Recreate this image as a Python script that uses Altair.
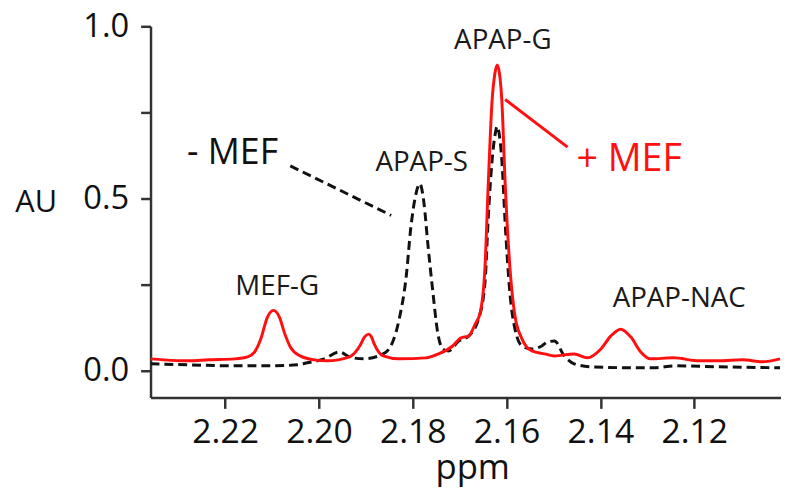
import altair as alt
import pandas as pd

FONT = "Open Sans"

# +MEF spectrum (red, solid): chemical shift (ppm) and intensity (AU)
plus_ppm = [2.2359, 2.2331, 2.2278, 2.2236, 2.2179, 2.2152, 2.2137, 2.2124, 2.2110, 2.2097,
            2.2084, 2.2074, 2.2061, 2.2040, 2.2010, 2.1983, 2.1935, 2.1913, 2.1903, 2.1894,
            2.1888, 2.1882, 2.1863, 2.1829, 2.1772, 2.1745, 2.1715, 2.1698, 2.1681, 2.1667,
            2.1656, 2.1646, 2.1639, 2.1631, 2.1625, 2.1620, 2.1615, 2.1610, 2.1603, 2.1593,
            2.1582, 2.1567, 2.1546, 2.1519, 2.1498, 2.1456, 2.1428, 2.1399, 2.1378, 2.1357,
            2.1335, 2.1314, 2.1293, 2.1245, 2.1188, 2.1146, 2.1097, 2.1055, 2.1017]
plus_au = [0.0345, 0.0316, 0.0287, 0.0316, 0.0345, 0.0402, 0.0546, 0.0920, 0.1552, 0.1753,
           0.1552, 0.1121, 0.0690, 0.0431, 0.0316, 0.0287, 0.0402, 0.0718, 0.0977, 0.1063,
           0.0977, 0.0776, 0.0431, 0.0345, 0.0374, 0.0489, 0.0718, 0.0948, 0.1006, 0.1351,
           0.1695, 0.3017, 0.5431, 0.7816, 0.8620, 0.8879, 0.8620, 0.7816, 0.5431, 0.3017,
           0.1580, 0.0920, 0.0575, 0.0489, 0.0431, 0.0489, 0.0374, 0.0632, 0.1006, 0.1207,
           0.0977, 0.0546, 0.0345, 0.0374, 0.0287, 0.0287, 0.0316, 0.0259, 0.0345]

# -MEF spectrum (black, dashed)
minus_ppm = [2.2359, 2.2278, 2.2194, 2.2095, 2.2046, 2.2025, 2.1989, 2.1956, 2.1935, 2.1905,
             2.1863, 2.1842, 2.1829, 2.1814, 2.1804, 2.1793, 2.1785, 2.1776, 2.1768, 2.1757,
             2.1747, 2.1736, 2.1724, 2.1702, 2.1681, 2.1660, 2.1646, 2.1639, 2.1631, 2.1625,
             2.1620, 2.1615, 2.1610, 2.1603, 2.1593, 2.1582, 2.1567, 2.1546, 2.1525, 2.1513,
             2.1498, 2.1477, 2.1456, 2.1420, 2.1329, 2.1287, 2.1238, 2.1154, 2.1017]
minus_au = [0.0201, 0.0172, 0.0144, 0.0144, 0.0172, 0.0230, 0.0345, 0.0546, 0.0402, 0.0345,
            0.0489, 0.0862, 0.1494, 0.2730, 0.4167, 0.5144, 0.5431, 0.4856, 0.3707, 0.2270,
            0.1121, 0.0632, 0.0575, 0.0862, 0.1006, 0.1494, 0.2557, 0.4454, 0.6092, 0.6810,
            0.7098, 0.6810, 0.6092, 0.4282, 0.2270, 0.1207, 0.0718, 0.0632, 0.0718, 0.0833,
            0.0862, 0.0431, 0.0201, 0.0115, 0.0086, 0.0086, 0.0144, 0.0115, 0.0086]

# peak labels
peak_names = ["APAP-G", "APAP-S", "MEF-G", "APAP-NAC"]
peak_ppm = [2.1608, 2.1781, 2.2089, 2.1232]
peak_au = [0.934, 0.581, 0.221, 0.184]

# series labels and their leader lines
minus_label = ["- MEF"]
minus_label_ppm = [2.2281]
minus_label_au = [0.600]
plus_label = ["+ MEF"]
plus_label_ppm = [2.1451]
plus_label_au = [0.580]

minus_leader = {"x": [2.2061], "x2": [2.1846], "y": [0.5948], "y2": [0.4511]}
plus_leader = {"x": [2.1603], "x2": [2.1470], "y": [0.7874], "y2": [0.6494]}

x_ticks = [2.22, 2.20, 2.18, 2.16, 2.14, 2.12]
y_ticks = [0.0, 0.25, 0.5, 0.75, 1.0]

xscale = alt.Scale(domain=[2.1015, 2.2359], reverse=True, nice=False, zero=False)
yscale = alt.Scale(domain=[-0.0776, 1.0], nice=False, zero=False)

plus_df = pd.DataFrame({"ppm": plus_ppm, "au": plus_au, "i": range(len(plus_ppm))})
minus_df = pd.DataFrame({"ppm": minus_ppm, "au": minus_au, "i": range(len(minus_ppm))})

xaxis = alt.Axis(values=x_ticks, format=".2f", title="ppm", grid=False,
                 labelFontSize=34, labelFont=FONT, labelColor="#111111",
                 titleFontSize=35, titleFont=FONT, titleColor="#111111", titleFontWeight="normal",
                 titleX=325, titleY=82, titleBaseline="alphabetic", titleAlign="center",
                 domainColor="#333333", domainWidth=2.5, tickColor="#333333", tickWidth=2.5,
                 tickSize=11, labelPadding=8, labelFlush=False, labelOverlap=False)
yaxis = alt.Axis(values=y_ticks, title="AU", grid=False,
                 labelExpr="(datum.value == 0.25 || datum.value == 0.75) ? '' : format(datum.value, '.1f')",
                 labelFontSize=33, labelFont=FONT, labelColor="#111111",
                 titleFontSize=31, titleFont=FONT, titleColor="#111111", titleFontWeight="normal",
                 titleAngle=0, titleX=-116, titleY=187, titleAlign="center", titleBaseline="alphabetic",
                 domainColor="#333333", domainWidth=2.5, tickColor="#333333", tickWidth=2.5,
                 tickSize=10, labelPadding=12, labelFlush=False, labelOverlap=False)

minus_line = alt.Chart(minus_df).mark_line(
    color="#111111", strokeWidth=3, strokeDash=[9, 5], interpolate="monotone", clip=True
).encode(
    x=alt.X("ppm:Q", scale=xscale, axis=xaxis),
    y=alt.Y("au:Q", scale=yscale, axis=yaxis),
    order="i:O",
)

plus_line = alt.Chart(plus_df).mark_line(
    color="#ff1010", strokeWidth=3, interpolate="monotone", clip=True
).encode(
    x=alt.X("ppm:Q", scale=xscale),
    y=alt.Y("au:Q", scale=yscale),
    order="i:O",
)

minus_lead = alt.Chart(pd.DataFrame(minus_leader)).mark_rule(
    color="#111111", strokeWidth=3, strokeDash=[9, 5]
).encode(x=alt.X("x:Q", scale=xscale), x2="x2:Q", y=alt.Y("y:Q", scale=yscale), y2="y2:Q")

plus_lead = alt.Chart(pd.DataFrame(plus_leader)).mark_rule(
    color="#ff1010", strokeWidth=3
).encode(x=alt.X("x:Q", scale=xscale), x2="x2:Q", y=alt.Y("y:Q", scale=yscale), y2="y2:Q")

peaks = alt.Chart(pd.DataFrame({"t": peak_names, "x": peak_ppm, "y": peak_au})).mark_text(
    font=FONT, fontSize=28, color="#1a1a1a", align="center", baseline="alphabetic"
).encode(x=alt.X("x:Q", scale=xscale), y=alt.Y("y:Q", scale=yscale), text="t:N")

minus_txt = alt.Chart(pd.DataFrame({"t": minus_label, "x": minus_label_ppm, "y": minus_label_au})).mark_text(
    font=FONT, fontSize=36, color="#111111", align="left", baseline="alphabetic"
).encode(x=alt.X("x:Q", scale=xscale), y=alt.Y("y:Q", scale=yscale), text="t:N")

plus_txt = alt.Chart(pd.DataFrame({"t": plus_label, "x": plus_label_ppm, "y": plus_label_au})).mark_text(
    font=FONT, fontSize=38, color="#ff1010", align="left", baseline="alphabetic"
).encode(x=alt.X("x:Q", scale=xscale), y=alt.Y("y:Q", scale=yscale), text="t:N")

chart = alt.layer(
    minus_line, plus_line, minus_lead, plus_lead, peaks, minus_txt, plus_txt
).properties(
    width=637, height=375,
    autosize=alt.AutoSizeParams(type="none"),
    padding={"left": 144, "top": 16, "right": 0, "bottom": 92},
    background="white",
).configure_view(stroke=None)

chart.save("out.html", embed_options={"renderer": "svg", "actions": False})
